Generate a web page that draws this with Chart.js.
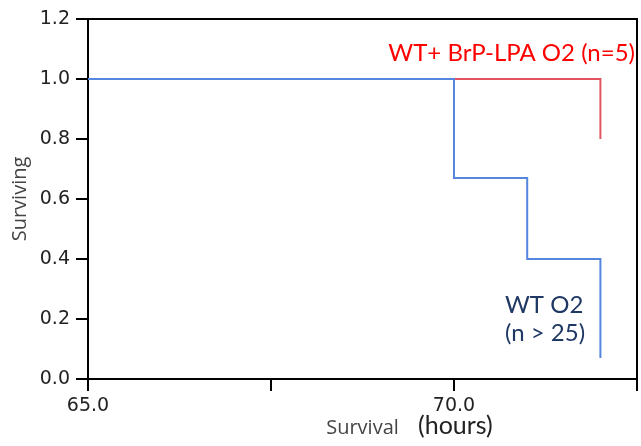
<!DOCTYPE html>
<html>
<head>
    <title>Survival</title>
    <script src="https://cdn.jsdelivr.net/npm/chart.js"></script>
    <style>
        body { margin: 0; background: #fff; }
        #wrap { width: 641px; height: 446px; }
    </style>
</head>
<body>
    <div id="wrap"><canvas id="survChart" width="641" height="446"></canvas></div>

    <script>
        // Kaplan-Meier style data (hours, fraction surviving)
        const wtTimes = [65, 70, 71, 72];
        const wtSurv = [1.0, 0.67, 0.40, 0.07];
        const lpaTimes = [65, 72];
        const lpaSurv = [1.0, 0.80];

        const xTicksMin = 65, xTicksMax = 72.5, xStep = 2.5;
        const yTicksMin = 0, yTicksMax = 1.2, yStep = 0.2;

        const lpaLabel = 'WT+ BrP-LPA O2 (n=5)';
        const wtLabel = ['WT O2', '(n > 25)'];

        function toPoints(xs, ys) {
            return xs.map((x, i) => ({ x: x, y: ys[i] }));
        }

        const frameAndText = {
            id: 'frameAndText',
            afterDraw(chart) {
                const ctx = chart.ctx;
                const a = chart.chartArea;
                ctx.save();
                ctx.strokeStyle = '#000';
                ctx.lineWidth = 2;
                ctx.beginPath();
                ctx.moveTo(a.left, a.top);
                ctx.lineTo(a.right, a.top);
                ctx.lineTo(a.right, a.bottom);
                ctx.stroke();

                ctx.textBaseline = 'alphabetic';
                ctx.fillStyle = '#ff0000';
                ctx.font = '24px Lato';
                ctx.textAlign = 'right';
                ctx.fillText(lpaLabel, a.right - 2, 61);

                ctx.fillStyle = '#1f3864';
                ctx.textAlign = 'left';
                ctx.fillText(wtLabel[0], 505, 313);
                ctx.fillText(wtLabel[1], 505, 341);

                ctx.fillStyle = '#222';
                ctx.font = '25px Lato';
                ctx.fillText('(hours)', 418, 434);
                ctx.restore();
            }
        };

        const ctx = document.getElementById('survChart').getContext('2d');
        const myChart = new Chart(ctx, {
            type: 'line',
            data: {
                datasets: [{
                    label: 'WT O2',
                    data: toPoints(wtTimes, wtSurv),
                    borderColor: 'rgb(84,134,222)',
                    borderWidth: 2,
                    stepped: true,
                    pointRadius: 0,
                    fill: false
                }, {
                    label: 'WT+ BrP-LPA O2',
                    data: toPoints(lpaTimes, lpaSurv),
                    borderColor: 'rgb(226,84,96)',
                    borderWidth: 2,
                    stepped: true,
                    pointRadius: 0,
                    fill: false
                }]
            },
            options: {
                responsive: false,
                animation: false,
                layout: { padding: { top: 19, right: 2, left: 0, bottom: 0 } },
                plugins: {
                    legend: { display: false },
                    tooltip: { enabled: false }
                },
                scales: {
                    x: {
                        type: 'linear',
                        min: xTicksMin,
                        max: xTicksMax,
                        afterFit(scale) { scale.height = 67; },
                        border: { display: true, color: '#000', width: 2 },
                        grid: { drawOnChartArea: false, drawTicks: true, tickLength: 12, color: '#000', lineWidth: 2 },
                        ticks: {
                            stepSize: xStep,
                            padding: 4,
                            color: '#222',
                            font: { family: 'DejaVu Sans', size: 19 },
                            maxRotation: 0,
                            callback: v => (v % 5 === 0 ? v.toFixed(1) : '')
                        },
                        title: {
                            display: true,
                            text: 'Survival',
                            color: '#444',
                            font: { family: 'Open Sans', size: 20 },
                            padding: { top: 0, bottom: 6 }
                        }
                    },
                    y: {
                        min: yTicksMin,
                        max: yTicksMax,
                        afterFit(scale) { scale.width = 88; },
                        border: { display: true, color: '#000', width: 2 },
                        grid: { drawOnChartArea: false, drawTicks: true, tickLength: 12, color: '#000', lineWidth: 2 },
                        ticks: {
                            stepSize: yStep,
                            padding: 6,
                            color: '#222',
                            font: { family: 'DejaVu Sans', size: 19 },
                            callback: v => v.toFixed(1)
                        },
                        title: {
                            display: true,
                            text: 'Surviving',
                            color: '#444',
                            font: { family: 'Open Sans', size: 20 },
                            padding: { top: 8, bottom: 0 }
                        }
                    }
                }
            },
            plugins: [frameAndText]
        });
    </script>
</body>
</html>
